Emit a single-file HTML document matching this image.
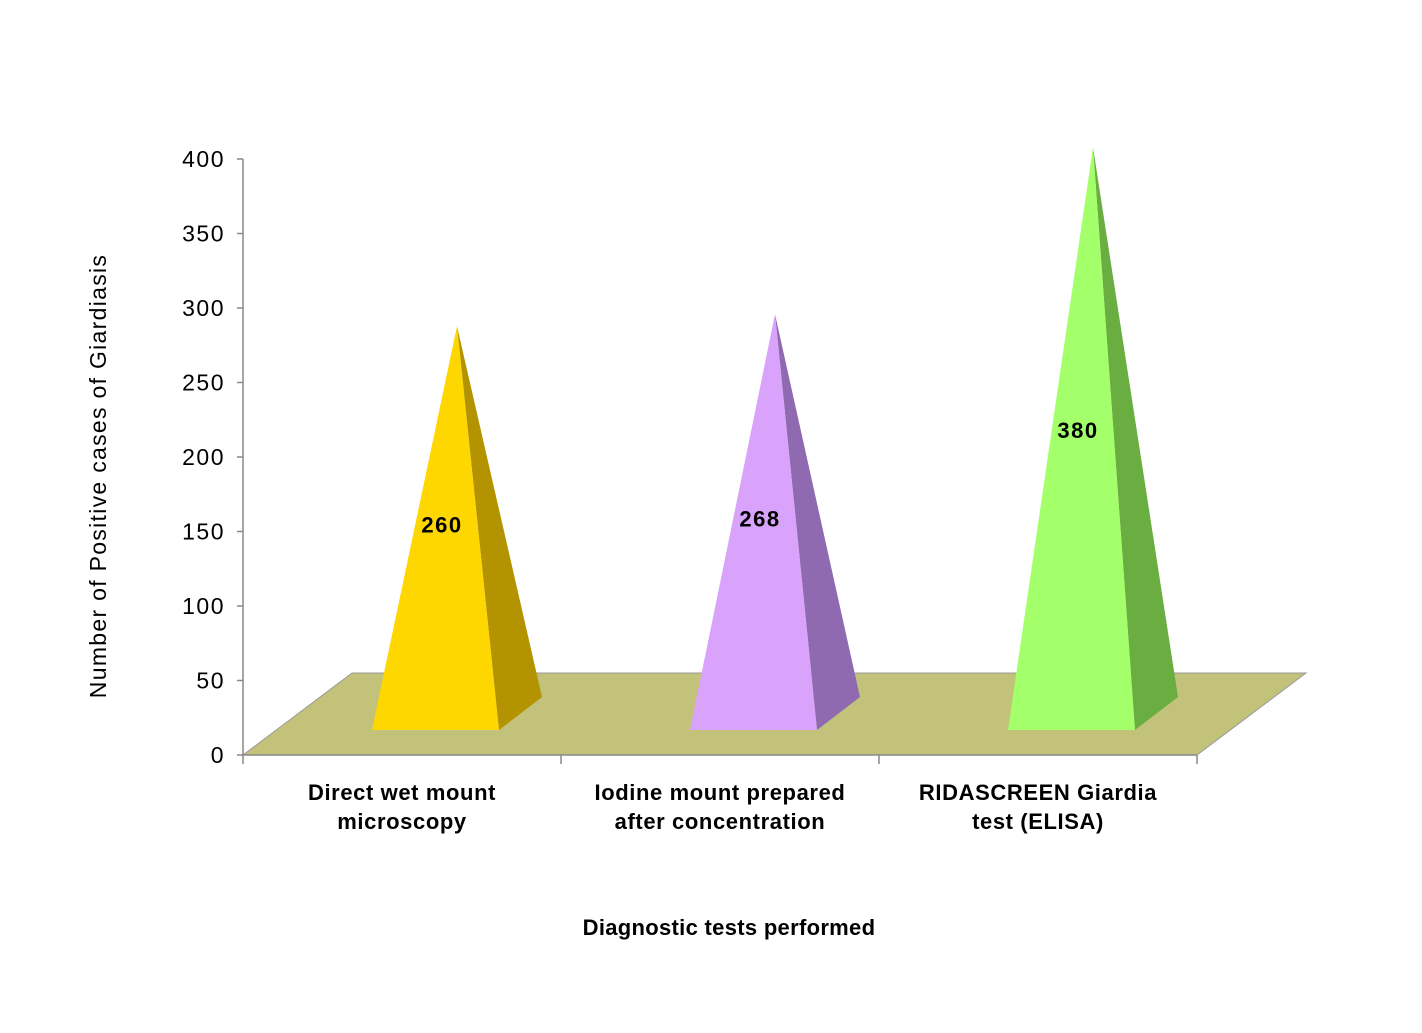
<!DOCTYPE html>
<html><head><meta charset="utf-8"><style>
body{margin:0;background:#fff}
svg{display:block}
text{font-family:"Liberation Sans",Arial,sans-serif}
</style></head><body>
<svg id="chart" width="1422" height="1033" viewBox="0 0 1422 1033" xmlns="http://www.w3.org/2000/svg">
<g id="floor"></g>
<g id="axis"></g>
<g id="xaxis"></g>
<g id="marks"></g>
<text transform="translate(106,476) rotate(-90)" text-anchor="middle" font-size="23" letter-spacing="1.3">Number of Positive cases of Giardiasis</text>
<text x="729" y="935" text-anchor="middle" font-size="22" font-weight="bold" letter-spacing="0.3">Diagnostic tests performed</text>
</svg>
<script>
const categories = [["Direct wet mount","microscopy"],["Iodine mount prepared","after concentration"],["RIDASCREEN Giardia","test (ELISA)"]];
const values = [260, 268, 380];
const tickLabels = [0,50,100,150,200,250,300,350,400];
const frontColors = ["#ffd700","#d9a3fb","#a3ff6a"];
const sideColors = ["#b39400","#8f6ab0","#6aad40"];

const NS="http://www.w3.org/2000/svg";
const y0=755, yTop=159, yMax=400;
const yScale=v=>y0-(v/yMax)*(y0-yTop);
const xLeft=243, xRight=1197, band=(xRight-xLeft)/categories.length;
const xCenter=i=>xLeft+band*(i+0.5);
function mk(tag,attrs,parent){const e=document.createElementNS(NS,tag);for(const k in attrs)e.setAttribute(k,attrs[k]);parent.appendChild(e);return e;}

const floor=document.getElementById('floor');
const fl=mk('polygon',{points:`${xLeft},${y0} ${xRight},${y0} ${xRight+109},${y0-82} ${xLeft+109},${y0-82}`,fill:"#c3c27a",stroke:"#9a9a9a","stroke-width":1},floor);



const axis=document.getElementById('axis');
mk('line',{x1:xLeft,y1:yTop,x2:xLeft,y2:y0,stroke:"#888","stroke-width":1.5},axis);
tickLabels.forEach(t=>{
  const y=yScale(t);
  mk('line',{x1:xLeft-6,y1:y,x2:xLeft,y2:y,stroke:"#888","stroke-width":1.5},axis);
  const tx=mk('text',{x:225,y:y+8,"text-anchor":"end","font-size":23,"letter-spacing":1.5},axis);
  tx.textContent=t;
  
  
});

const xaxis=document.getElementById('xaxis');
mk('line',{x1:xLeft,y1:y0,x2:xRight,y2:y0,stroke:"#888","stroke-width":1.5},xaxis);
for(let i=0;i<=categories.length;i++){const x=xLeft+band*i;mk('line',{x1:x,y1:y0,x2:x,y2:y0+9,stroke:"#888","stroke-width":1.5},xaxis);}
categories.forEach((c,i)=>{
  const t=mk('text',{x:xCenter(i),y:800,"text-anchor":"middle","font-size":22,"font-weight":"bold","letter-spacing":0.6},xaxis);
  
  
  c.forEach((line,j)=>{const ts=mk('tspan',{x:xCenter(i),dy:j?29:0},t);ts.textContent=line;});
});

const marks=document.getElementById('marks');
const midBase=713.5, unit=(y0-yTop)/yMax;
values.forEach((v,i)=>{
  const c=xCenter(i);
  const g=mk('g',{},marks);
  
  
  const ax=c+55, ay=midBase-v*unit;
  mk('polygon',{points:`${c+97},730 ${c+140},697 ${ax},${ay}`,fill:sideColors[i]},g);
  mk('polygon',{points:`${c-30},730 ${c+97},730 ${ax},${ay}`,fill:frontColors[i]},g);
  const lbl=mk('text',{x:c+40,y:730-v*unit*0.53+8,"text-anchor":"middle","font-size":22,"letter-spacing":1.5,"font-weight":"bold"},g);
  lbl.textContent=v;
  
  
});
</script>
</body></html>
